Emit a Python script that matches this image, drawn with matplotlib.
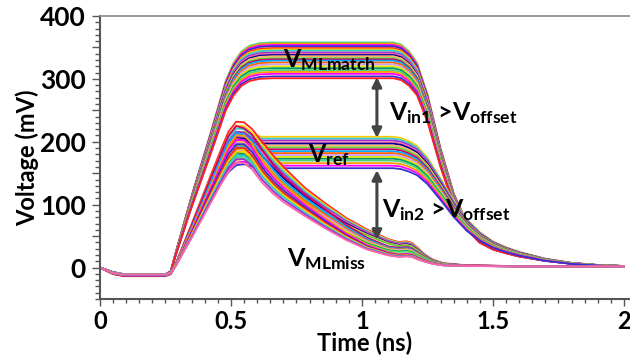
import numpy as np
import matplotlib
matplotlib.use("Agg")
import matplotlib.pyplot as plt
from matplotlib.ticker import MultipleLocator

# --- shapes (fraction of each line's level) ---
match_t = [0, 0.05, 0.09, 0.25, 0.27, 0.29, 0.35, 0.42, 0.48, 0.51, 0.54, 0.57, 0.61, 0.66,
           1.12, 1.15, 1.18, 1.21, 1.25, 1.30, 1.35, 1.40, 1.45, 1.5, 1.55, 1.6,
           1.7, 1.8, 1.9, 2.0]
match_shape = [0, -0.025, -0.036, -0.036, -0.02, 0.07, 0.32, 0.59, 0.83, 0.91, 0.96, 0.985,
               0.997, 1.0, 1.0, 0.99, 0.96, 0.91, 0.77, 0.53, 0.33, 0.20, 0.13, 0.095,
               0.075, 0.058, 0.035, 0.02, 0.011, 0.007]

ref_t = [0, 0.05, 0.09, 0.25, 0.27, 0.29, 0.35, 0.42, 0.46, 0.49, 0.52, 0.55, 0.58, 0.62,
         1.12, 1.15, 1.18, 1.21, 1.25, 1.30, 1.35, 1.40, 1.45, 1.5, 1.55, 1.6,
         1.7, 1.8, 1.9, 2.0]
ref_shape = [0, -0.045, -0.065, -0.065, -0.045, 0.03, 0.32, 0.65, 0.84, 0.96, 1.03, 1.04,
             1.015, 1.0, 1.0, 0.99, 0.965, 0.93, 0.84, 0.68, 0.51, 0.37, 0.27, 0.20,
             0.155, 0.12, 0.068, 0.036, 0.02, 0.011]

miss_t = [0, 0.05, 0.09, 0.25, 0.27, 0.29, 0.35, 0.42, 0.46, 0.49, 0.52, 0.55, 0.58, 0.62,
          0.66, 0.70, 0.78, 0.86, 0.94, 1.02, 1.10, 1.14, 1.17, 1.19, 1.21, 1.24,
          1.27, 1.31, 1.40, 1.60, 2.0]
miss_slow = [0, -0.04, -0.055, -0.055, -0.04, 0.03, 0.30, 0.62, 0.80, 0.93, 1.0, 0.995,
             0.95, 0.86, 0.77, 0.69, 0.55, 0.44, 0.34, 0.26, 0.195, 0.175, 0.18, 0.17,
             0.14, 0.09, 0.055, 0.03, 0.015, 0.01, 0.008]
miss_mid = [0, -0.045, -0.06, -0.06, -0.045, 0.03, 0.30, 0.62, 0.80, 0.93, 1.0, 0.985,
            0.94, 0.83, 0.73, 0.645, 0.52, 0.41, 0.30, 0.21, 0.15, 0.14, 0.145, 0.135,
            0.11, 0.075, 0.045, 0.025, 0.015, 0.01, 0.008]
miss_fast = [0, -0.05, -0.065, -0.065, -0.05, 0.02, 0.28, 0.60, 0.78, 0.91, 0.99, 0.99,
             0.93, 0.80, 0.70, 0.62, 0.49, 0.37, 0.26, 0.17, 0.115, 0.10, 0.105, 0.10,
             0.08, 0.055, 0.035, 0.02, 0.015, 0.01, 0.01]

# --- per-line levels (mV) ---
match_levels = [358, 356, 354, 352, 349, 347, 345, 342, 340, 338, 336, 333,
                331, 329, 326, 323, 320, 317, 314, 311, 308, 304, 301]
ref_levels = [208, 205, 202, 199, 197, 194, 191, 188, 185, 182, 179, 176,
              173, 170, 166, 162, 158]
miss_slow_peaks = [232, 226, 221, 216, 211, 206, 200, 195]
miss_mid_peaks = [225, 214, 205, 198, 190, 183, 176]
miss_fast_peaks = [212, 205, 198, 192, 186, 180, 174, 168]

colors = ["#4fd67a", "#ff9900", "#ff00ff", "#3333cc", "#ff2222", "#ffcc00",
          "#33cccc", "#9933cc", "#ff66aa", "#000099", "#ffb366", "#66cc33",
          "#cc0066", "#00aaff", "#ff6600", "#cc99ff", "#e6e600", "#009966"]

plt.rcParams["font.family"] = "Lato"
plt.rcParams["font.weight"] = "bold"
plt.rcParams["mathtext.fontset"] = "custom"
plt.rcParams["mathtext.it"] = "Lato:bold"
plt.rcParams["mathtext.rm"] = "Lato:bold"
plt.rcParams["mathtext.bf"] = "Lato:bold"

fig = plt.figure(figsize=(6.3, 3.62), dpi=100)
ax = fig.add_axes([100 / 630, 63 / 362, 530 / 630, 283 / 362])

k = 0
groups = [(match_t, match_shape, match_levels), (ref_t, ref_shape, ref_levels),
          (miss_t, miss_slow, miss_slow_peaks), (miss_t, miss_mid, miss_mid_peaks),
          (miss_t, miss_fast, miss_fast_peaks)]
for t, shape, levels in groups:
    for lv in levels:
        ax.plot(t, np.array(shape) * lv, color=colors[k % len(colors)], lw=1.3,
                solid_joinstyle="round")
        k += 1

ax.set_xlim(0, 2.023)
ax.set_ylim(-50, 400)
ax.xaxis.set_minor_locator(MultipleLocator(0.05))
ax.yaxis.set_minor_locator(MultipleLocator(10))
ax.set_yticks([0, 50, 100, 150, 200, 250, 300, 350, 400])
ax.set_yticklabels(["0", "", "100", "", "200", "", "300", "", "400"])
ax.set_xticks([0, 0.5, 1, 1.5, 2])
ax.set_xticklabels(["0", "0.5", "1", "1.5", "2"])
ax.tick_params(axis="y", which="major", length=6, width=1, color="#555555",
               labelsize=19, pad=4)
ax.tick_params(axis="y", which="minor", length=3.5, width=1, color="#555555")
ax.tick_params(axis="x", which="major", length=5, width=1, color="#555555",
               labelsize=17, pad=3)
ax.tick_params(axis="x", which="minor", length=3, width=1, color="#555555")
for s in ["left", "bottom"]:
    ax.spines[s].set_color("#555555")
    ax.spines[s].set_linewidth(1.5)
ax.spines["top"].set_color("#888888")
ax.spines["top"].set_linewidth(1.2)
ax.spines["right"].set_visible(False)

ax.set_xlabel("Time (ns)", fontsize=17, fontweight="bold", labelpad=-1)
ax.set_ylabel("Voltage (mV)", fontsize=17, fontweight="bold", labelpad=1)

ax.text(0.70, 318, r"$V_{MLmatch}$", fontsize=18, ha="left", va="baseline")
ax.text(0.794, 168, r"$V_{ref}$", fontsize=18, ha="left", va="baseline")
ax.text(0.714, 2, r"$V_{MLmiss}$", fontsize=18, ha="left", va="baseline")
ax.text(1.103, 235, r"$V_{in1}$ >$V_{offset}$", fontsize=18, ha="left", va="baseline")
ax.text(1.076, 81, r"$V_{in2}$ >$V_{offset}$", fontsize=18, ha="left", va="baseline")

arrow = dict(arrowstyle="<|-|>", color="#444444", lw=2.2, mutation_scale=14,
             shrinkA=0, shrinkB=0)
ax.annotate("", xy=(1.057, 303), xytext=(1.057, 206), arrowprops=arrow)
ax.annotate("", xy=(1.057, 155), xytext=(1.057, 44), arrowprops=arrow)

fig.savefig("out.png", dpi=100)
